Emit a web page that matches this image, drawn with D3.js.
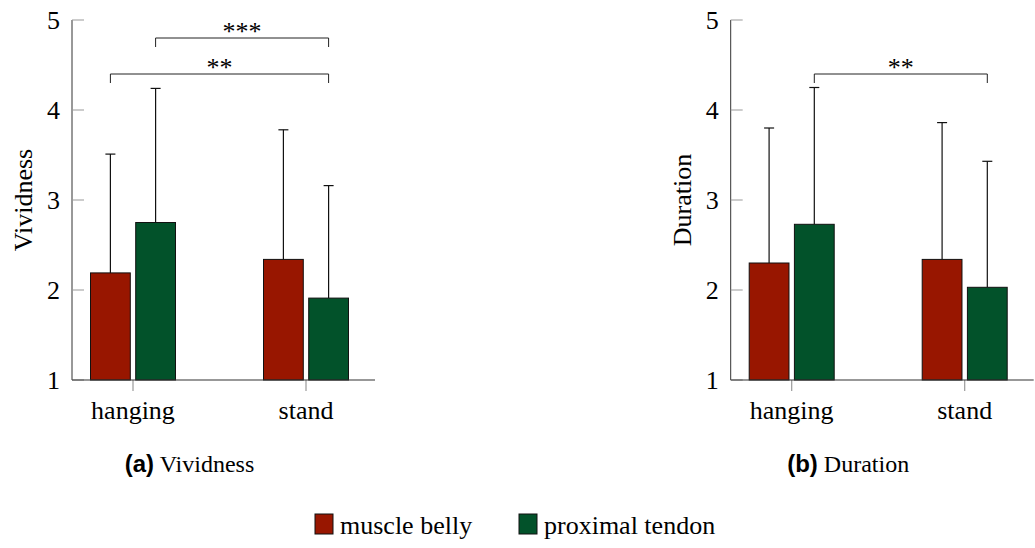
<!DOCTYPE html>
<html>
<head>
<meta charset="utf-8">
<script src="https://cdn.jsdelivr.net/npm/d3@7"></script>
<style>
  body { margin: 0; background: #fff; }
  svg { display: block; }
</style>
</head>
<body>
<svg id="chart"></svg>
<script>
// data
var categories = ['hanging', 'stand']
var series = ['muscle belly', 'proximal tendon']
var colors = ['#981600', '#02522a']
var yTicks = [1, 2, 3, 4, 5]

var vividnessMean = [[2.19, 2.75], [2.34, 1.91]]
var vividnessTop = [[3.51, 4.24], [3.78, 3.16]]
var durationMean = [[2.30, 2.73], [2.34, 2.03]]
var durationTop = [[3.80, 4.25], [3.86, 3.43]]

// significance brackets: [category, series] -> [category, series]
var vividnessSig = [
  { from: [0, 1], to: [1, 1], level: 38, label: '***' },
  { from: [0, 0], to: [1, 1], level: 74, label: '**' }
]
var durationSig = [
  { from: [0, 1], to: [1, 1], level: 74, label: '**' }
]

var width = 1035
var height = 548
var serif = '"Liberation Serif", "DejaVu Serif", serif'

var svg = d3.select('#chart').attr('width', width).attr('height', height)

function drawPanel(opts) {
  var x0 = opts.left
  var axisW = 303
  var top = 20, bottom = 380

  var g = svg.append('g')

  var y = d3.scaleLinear().domain([1, 5]).range([bottom, top])
  var x = d3.scalePoint().domain(categories).range([x0 + 61, x0 + 234])
  var xs = d3.scaleBand().domain(series).range([-42.5, 42.5]).paddingInner(0.12)

  // y axis
  g.append('line')
    .attr('x1', x0).attr('x2', x0)
    .attr('y1', top).attr('y2', bottom)
    .attr('stroke', '#333').attr('stroke-width', 1)
  g.selectAll('.ytick').data(yTicks).enter().append('line')
    .attr('x1', x0).attr('x2', x0 + 12)
    .attr('y1', function (d) { return y(d) }).attr('y2', function (d) { return y(d) })
    .attr('stroke', '#999').attr('stroke-width', 1)
  g.selectAll('.ylab').data(yTicks).enter().append('text')
    .attr('x', x0 - 12)
    .attr('y', function (d) { return y(d) + 9 })
    .attr('text-anchor', 'end')
    .attr('font-family', serif).attr('font-size', 26)
    .text(function (d) { return d })

  // x axis ticks (below)
  g.selectAll('.xtick').data(categories).enter().append('line')
    .attr('x1', function (d) { return x(d) }).attr('x2', function (d) { return x(d) })
    .attr('y1', bottom).attr('y2', bottom + 11)
    .attr('stroke', '#999').attr('stroke-width', 1.2)
  g.selectAll('.xlab').data(categories).enter().append('text')
    .attr('x', function (d) { return x(d) })
    .attr('y', bottom + 39)
    .attr('text-anchor', 'middle')
    .attr('font-family', serif).attr('font-size', 26)
    .text(function (d) { return d })

  // bars
  var rows = []
  categories.forEach(function (c, i) {
    series.forEach(function (s, j) {
      rows.push({ cat: c, ser: s, j: j, mean: opts.mean[i][j], top: opts.top[i][j] })
    })
  })

  var bx = function (d) { return x(d.cat) + xs(d.ser) }
  var cx = function (d) { return x(d.cat) + xs(d.ser) + xs.bandwidth() / 2 }

  // error bars (upper only)
  g.selectAll('.err').data(rows).enter().append('line')
    .attr('x1', cx).attr('x2', cx)
    .attr('y1', function (d) { return y(d.mean) }).attr('y2', function (d) { return y(d.top) })
    .attr('stroke', '#111').attr('stroke-width', 1.2)
  g.selectAll('.cap').data(rows).enter().append('line')
    .attr('x1', function (d) { return cx(d) - 5 }).attr('x2', function (d) { return cx(d) + 5 })
    .attr('y1', function (d) { return y(d.top) }).attr('y2', function (d) { return y(d.top) })
    .attr('stroke', '#111').attr('stroke-width', 1.2)

  g.selectAll('.bar').data(rows).enter().append('rect')
    .attr('x', bx)
    .attr('y', function (d) { return y(d.mean) })
    .attr('width', xs.bandwidth())
    .attr('height', function (d) { return bottom - y(d.mean) })
    .attr('fill', function (d) { return colors[d.j] })
    .attr('stroke', '#111').attr('stroke-width', 1)

  // x axis line on top of bars
  g.append('line')
    .attr('x1', x0).attr('x2', x0 + axisW)
    .attr('y1', bottom).attr('y2', bottom)
    .attr('stroke', '#333').attr('stroke-width', 1.2)

  // significance brackets
  opts.sig.forEach(function (s) {
    var xa = x(categories[s.from[0]]) + xs(series[s.from[1]]) + xs.bandwidth() / 2
    var xb = x(categories[s.to[0]]) + xs(series[s.to[1]]) + xs.bandwidth() / 2
    g.append('path')
      .attr('d', 'M' + xa + ',' + (s.level + 9) + 'V' + s.level + 'H' + xb + 'V' + (s.level + 9))
      .attr('fill', 'none').attr('stroke', '#222').attr('stroke-width', 1)
    g.append('text')
      .attr('x', (xa + xb) / 2)
      .attr('y', s.level + 2)
      .attr('text-anchor', 'middle')
      .attr('font-family', serif).attr('font-size', 26)
      .text(s.label)
  })

  // y label
  g.append('text')
    .attr('transform', 'translate(' + (x0 - 40) + ',' + ((top + bottom) / 2) + ') rotate(-90)')
    .attr('text-anchor', 'middle')
    .attr('font-family', serif).attr('font-size', 26)
    .text(opts.ylabel)

  // caption
  var cap = g.append('text')
    .attr('x', x0 + 117.5)
    .attr('y', 472)
    .attr('text-anchor', 'middle')
    .attr('font-size', 24)
  cap.append('tspan')
    .attr('font-family', '"Liberation Sans", Arial, sans-serif')
    .attr('font-weight', 'bold')
    .text(opts.tag)
  cap.append('tspan')
    .attr('font-family', serif)
    .text(' ' + opts.ylabel)
}

drawPanel({ left: 72, mean: vividnessMean, top: vividnessTop, sig: vividnessSig, ylabel: 'Vividness', tag: '(a)' })
drawPanel({ left: 730.7, mean: durationMean, top: durationTop, sig: durationSig, ylabel: 'Duration', tag: '(b)' })

// legend
var legend = svg.append('g')
var legendX = [315, 519]
series.forEach(function (s, j) {
  legend.append('rect')
    .attr('x', legendX[j]).attr('y', 514)
    .attr('width', 18).attr('height', 20)
    .attr('fill', colors[j])
    .attr('stroke', '#111').attr('stroke-width', 1)
  legend.append('text')
    .attr('x', legendX[j] + 25).attr('y', 534)
    .attr('font-family', serif).attr('font-size', 26)
    .text(s)
})
</script>
</body>
</html>
